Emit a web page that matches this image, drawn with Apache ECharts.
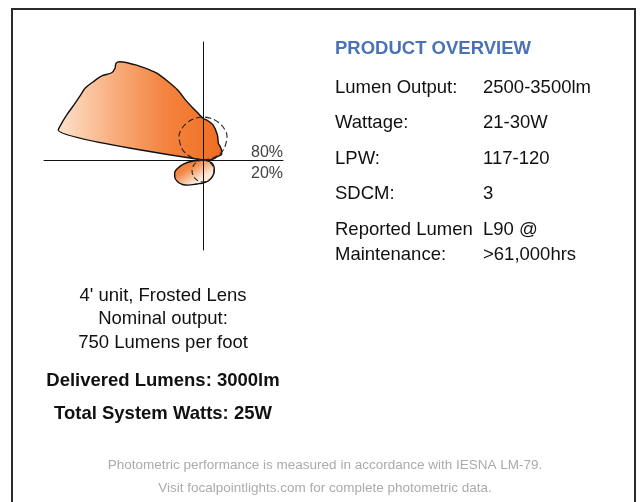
<!DOCTYPE html>
<html>
<head>
<meta charset="utf-8">
<script src="https://cdn.jsdelivr.net/npm/echarts@6/dist/echarts.min.js"></script>
<style>html,body{margin:0;padding:0;background:#fff;}#c{width:641px;height:502px;}</style>
</head>
<body>
<div id="c"></div>
<script>
// Photometric distribution: [relative intensity, angle in degrees (0 = right, counter-clockwise)]
var upLobe = [[0,0],[8,3],[12,8],[14,13],[19.5,17],[21,28],[22,40],[22.6,47],[28.8,60],[36.5,74],[40,84],[41.7,90],[46,95],[53,101],[62,106],[74.7,110],[86,114],[98.4,118],[104.4,120.5],[115.8,125],[128.7,130.2],[130.1,132],[127.1,133.8],[126.3,136.3],[131.6,140.3],[134.8,144.5],[138.1,148.7],[138.4,151.2],[140,156.1],[143.5,161.7],[146,165.4],[147.8,168.3],[0,169]];
var downLobe = [[0,180],[12,187],[20,192],[26.5,198],[31,204],[33,211],[33.5,220],[32,230],[29,240],[26,250],[24,260],[23,270],[21.5,285],[19,300],[16,315],[13,328],[9,342],[4,352],[0,358]];
var upRef = [[0,0],[9,10],[18,20],[25,30],[34,45],[39,60],[42,75],[43,90],[42,105],[39,120],[34,135],[25,150],[18,160],[9,170],[0,180]];
var downRef = [[0,180],[3.8,190],[7.5,200],[11,210],[15.5,225],[19,240],[21.2,255],[22,270],[21.2,285],[19,300],[15.5,315],[11,330],[7.5,340],[3.8,350],[0,360]];
var splitLabels = ['80%','20%'];
var leftLines = ["4' unit, Frosted Lens","Nominal output:","750 Lumens per foot"];
var leftBold = ["Delivered Lumens: 3000lm","Total System Watts: 25W"];
var overviewTitle = 'PRODUCT OVERVIEW';
var specLabels = ['Lumen Output:','Wattage:','LPW:','SDCM:','Reported Lumen','Maintenance:'];
var specValues = ['2500-3500lm','21-30W','117-120','3','L90 @','>61,000hrs'];
var footer = ['Photometric performance is measured in accordance with IESNA LM-79.','Visit focalpointlights.com for complete photometric data.'];

var FONT = '"Liberation Sans", Arial, Helvetica, sans-serif';
var chart = echarts.init(document.getElementById('c'), null, {renderer:'canvas'});

var graphics = [];
graphics.push({type:'rect', shape:{x:12,y:9,width:623,height:520}, style:{fill:'none', stroke:'#2a2a2a', lineWidth:2}, z:0});
graphics.push({type:'text', x:283, y:161, style:{text:splitLabels[0], font:'16px '+FONT, fill:'#444', textAlign:'right', textVerticalAlign:'bottom'}});
graphics.push({type:'text', x:283, y:166, style:{text:splitLabels[1], font:'16px '+FONT, fill:'#444', textAlign:'right', textVerticalAlign:'top'}});
var leftY = [305, 328, 352];
leftLines.forEach(function(t,i){
  graphics.push({type:'text', x:163, y:leftY[i], style:{text:t, font:'18.5px '+FONT, fill:'#111', textAlign:'center', textVerticalAlign:'bottom'}});
});
var boldY = [390, 423];
leftBold.forEach(function(t,i){
  graphics.push({type:'text', x:163, y:boldY[i], style:{text:t, font:'bold 18.5px '+FONT, fill:'#111', textAlign:'center', textVerticalAlign:'bottom'}});
});
graphics.push({type:'text', x:335, y:58, style:{text:overviewTitle, font:'bold 18.5px '+FONT, fill:'#4a72b8', textAlign:'left', textVerticalAlign:'bottom'}});
var rowY = [97, 132, 168, 203, 239, 264];
specLabels.forEach(function(t,i){
  graphics.push({type:'text', x:335, y:rowY[i], style:{text:t, font:'18.5px '+FONT, fill:'#111', textAlign:'left', textVerticalAlign:'bottom'}});
  graphics.push({type:'text', x:483, y:rowY[i], style:{text:specValues[i], font:'18.5px '+FONT, fill:'#111', textAlign:'left', textVerticalAlign:'bottom'}});
});
var footY = [465, 488];
footer.forEach(function(t,i){
  graphics.push({type:'text', x:325, y:footY[i], style:{text:t, font:'13.5px '+FONT, fill:'#ababab', textAlign:'center', textVerticalAlign:'middle'}});
});

var option = {
  animation:false,
  backgroundColor:'#fff',
  grid:{left:44, top:42, width:239, height:208},
  xAxis:{type:'value', min:-159, max:80, z:5, axisLine:{onZero:true, lineStyle:{color:'#111', width:1}}, axisTick:{show:false}, axisLabel:{show:false}, splitLine:{show:false}},
  yAxis:{type:'value', min:-90, max:118, z:5, axisLine:{onZero:true, lineStyle:{color:'#111', width:1}}, axisTick:{show:false}, axisLabel:{show:false}, splitLine:{show:false}},
  polar:{center:[203,160], radius:150},
  angleAxis:{type:'value', min:0, max:360, startAngle:0, clockwise:false, show:false, axisLine:{show:false}, splitLine:{show:false}, axisTick:{show:false}, axisLabel:{show:false}},
  radiusAxis:{type:'value', min:0, max:150, show:false, axisLine:{show:false}, splitLine:{show:false}, axisTick:{show:false}, axisLabel:{show:false}},
  series:[
    {type:'line', coordinateSystem:'polar', data:upLobe, symbol:'none', smooth:0.25, z:2,
     lineStyle:{color:'#111', width:1.4},
     areaStyle:{opacity:1, color:new echarts.graphic.LinearGradient(0,0,1,0,[{offset:0,color:'#fde2cc'},{offset:0.35,color:'#f8ac7c'},{offset:0.65,color:'#f38440'},{offset:1,color:'#ef6e20'}])}},
    {type:'line', coordinateSystem:'polar', data:downLobe, symbol:'none', smooth:0.3, z:2,
     lineStyle:{color:'#111', width:1.4},
     areaStyle:{opacity:1, color:new echarts.graphic.LinearGradient(0,0,0.4,1,[{offset:0,color:'#ee6e20'},{offset:0.5,color:'#f28a48'},{offset:1,color:'#fde8d8'}])}},
    {type:'line', coordinateSystem:'polar', data:upRef, symbol:'none', smooth:0.3, z:6,
     lineStyle:{color:'#222', width:1.1, type:[6,3]}},
    {type:'line', coordinateSystem:'polar', data:downRef, symbol:'none', smooth:0.3, z:6,
     lineStyle:{color:'#222', width:1.1, type:[5,3]}}
  ],
  graphic:graphics
};
chart.setOption(option);
</script>
</body>
</html>
